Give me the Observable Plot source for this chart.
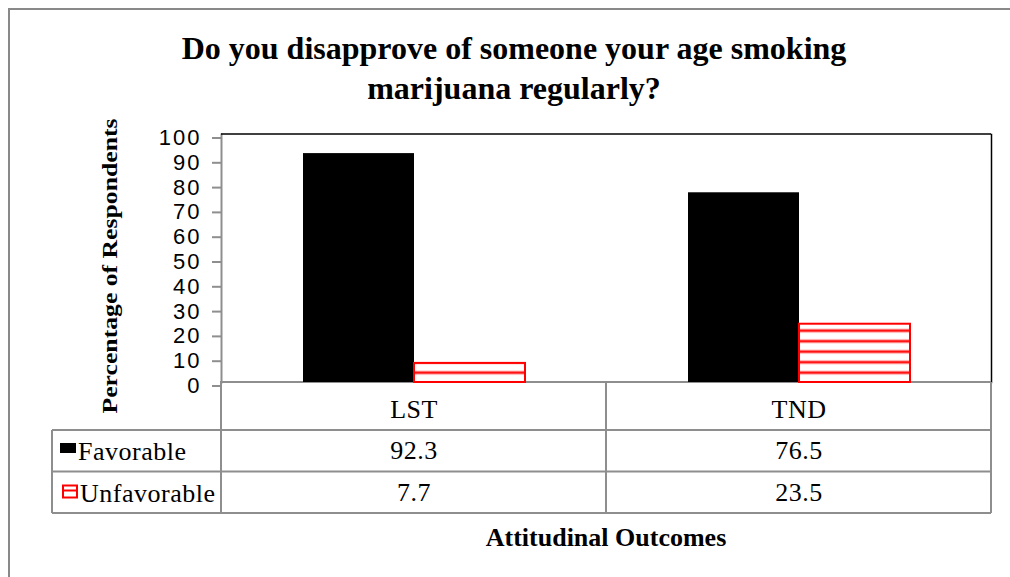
<!DOCTYPE html>
<html>
<head>
<meta charset="utf-8">
<script src="https://cdn.jsdelivr.net/npm/d3@7"></script>
<script src="https://cdn.jsdelivr.net/npm/@observablehq/plot@0.6"></script>
<style>
  body { margin: 0; background: #fff; }
  #wrap { position: relative; width: 1010px; height: 577px; overflow: hidden; background: #fff; }
  #border { position: absolute; left: 8px; top: 8px; width: 1200px; height: 800px;
            border-left: 2px solid #898989; border-top: 2px solid #898989; }
  #plot { position: absolute; left: 0; top: 0; }
  #title { position: absolute; left: 0; top: 28px; width: 1028px; text-align: center;
           font: bold 32px/40px "Liberation Serif", "Times New Roman", serif; color: #000; }
</style>
</head>
<body>
<div id="wrap">
  <div id="border"></div>
  <div id="plot"></div>
  <div id="title">Do you disapprove of someone your age smoking<br>marijuana regularly?</div>
</div>
<script>
// Survey outcome groups and the two answer series
const categories = ["LST", "TND"];
const seriesNames = ["Favorable", "Unfavorable"];
const favorable = [92.3, 76.5];
const unfavorable = [7.7, 23.5];
const yTicks = [0, 10, 20, 30, 40, 50, 60, 70, 80, 90, 100];
const yLabel = "Percentage of Respondents";
const xLabel = "Attitudinal Outcomes";

const serif = '"Liberation Serif", "Times New Roman", serif';
const sans = '"Liberation Sans", Arial, sans-serif';
const gridGray = "#8e8e8e";

const rows = categories.flatMap((c, i) => [
  {category: c, series: seriesNames[0], value: favorable[i]},
  {category: c, series: seriesNames[1], value: unfavorable[i]}
]);
const favRows = rows.filter(d => d.series === seriesNames[0]);
const unfRows = rows.filter(d => d.series === seriesNames[1]);

const chart = Plot.plot({
  width: 1010,
  height: 577,
  marginLeft: 221,
  marginRight: 19,
  marginTop: 134,
  marginBottom: 195,
  style: {fontFamily: sans, fontSize: "22px", background: "transparent", color: "#000"},
  fx: {domain: categories, padding: 0, label: null, axis: null},
  x: {domain: seriesNames, paddingInner: 0, paddingOuter: 0.734, axis: null},
  y: {domain: [0, 100], axis: null},
  marks: [
    Plot.frame({anchor: "right", stroke: "#000", strokeWidth: 1.5, facetAnchor: "right"}),
    Plot.frame({anchor: "left", stroke: gridGray, strokeWidth: 2, facetAnchor: "left"}),
    Plot.axisY({ticks: yTicks, tickSize: 9, tickPadding: 11, stroke: gridGray, strokeWidth: 2,
                fill: "#000", label: null, fontFamily: sans, fontSize: 22, dy: 3.5}),
    Plot.axisFx({anchor: "bottom", tickSize: 0, tickPadding: 17, label: null,
                 fontFamily: serif, fontSize: 26, fill: "#000"}),
    Plot.barY(favRows, {fx: "category", x: "series", y: "value", fill: "#000"}),
    Plot.barY(unfRows, {fx: "category", x: "series", y: "value",
                        fill: "url(#hatch)", stroke: "#ff0000", strokeWidth: 2}),
    // data table values under each category column
    Plot.text(favRows, {fx: "category", text: d => String(d.value), frameAnchor: "bottom",
                        dy: 76.5, fontFamily: serif, fontSize: 26, fill: "#000"}),
    Plot.text(unfRows, {fx: "category", text: d => String(d.value), frameAnchor: "bottom",
                        dy: 118, fontFamily: serif, fontSize: 26, fill: "#000"})
  ]
});

document.getElementById("plot").appendChild(chart);

const svg = d3.select(chart);
svg.selectAll("text").style("letter-spacing", "0.5px");
svg.selectAll('g[aria-label="y-axis tick label"] text').style("letter-spacing", "2px");

// horizontal hatch used by the Unfavorable bars
const defs = svg.insert("defs", ":first-child");
const pat = defs.append("pattern")
  .attr("id", "hatch")
  .attr("patternUnits", "userSpaceOnUse")
  .attr("width", 10)
  .attr("height", 10.5);
pat.append("rect").attr("width", 10).attr("height", 10.5).attr("fill", "#fff");
pat.append("rect").attr("y", 3.2).attr("width", 10).attr("height", 4).attr("fill", "#ffb0b0");
pat.append("rect").attr("y", 4.2).attr("width", 10).attr("height", 2).attr("fill", "#ff0000");

// scale positions shared by the plot borders and the data table
const fxs = chart.scale("fx");
const ys = chart.scale("y");
const yBase = ys.apply(0);
const yTop = ys.apply(100);
const colLeft = fxs.apply(categories[0]);
const colMid = fxs.apply(categories[1]);
const colRight = colMid + fxs.bandwidth;
const tableLeft = 52;
const rowLines = [yBase + 48, yBase + 89.5, yBase + 131];

// top border and category baseline of the plot area, drawn beneath the bars
const borders = svg.insert("g", 'g[aria-label="bar"]');
borders.append("line").attr("x1", colLeft).attr("x2", colRight).attr("y1", yTop).attr("y2", yTop)
  .attr("stroke", "#000").attr("stroke-width", 1.5);
borders.append("line").attr("x1", colLeft - 1).attr("x2", colRight).attr("y1", yBase).attr("y2", yBase)
  .attr("stroke", gridGray).attr("stroke-width", 2);

const table = svg.append("g").attr("stroke", gridGray).attr("stroke-width", 2).attr("fill", "none");
rowLines.forEach(yv => {
  table.append("line").attr("x1", tableLeft).attr("x2", colRight).attr("y1", yv).attr("y2", yv);
});
table.append("line").attr("x1", tableLeft).attr("x2", tableLeft).attr("y1", rowLines[0]).attr("y2", rowLines[2]);
[colLeft, colMid, colRight].forEach(xv => {
  table.append("line").attr("x1", xv).attr("x2", xv).attr("y1", yBase).attr("y2", rowLines[2]);
});

// legend keys inside the table
const keys = svg.append("g");
keys.append("rect").attr("x", 60).attr("y", rowLines[0] + 13).attr("width", 16).attr("height", 10).attr("fill", "#000");
keys.append("rect").attr("x", 63).attr("y", rowLines[1] + 14).attr("width", 14).attr("height", 12)
  .attr("fill", "#fff").attr("stroke", "#ff0000").attr("stroke-width", 2);
keys.append("line").attr("x1", 63).attr("x2", 77).attr("y1", rowLines[1] + 19).attr("y2", rowLines[1] + 19)
  .attr("stroke", "#ff0000").attr("stroke-width", 2);

keys.selectAll("text.row")
  .data(seriesNames)
  .join("text")
  .attr("class", "row")
  .attr("x", (d, i) => i === 0 ? 78 : 80)
  .attr("y", (d, i) => (i === 0 ? rowLines[0] : rowLines[1]) + 30)
  .attr("text-anchor", "start")
  .attr("font-family", serif)
  .attr("font-size", 26)
  .style("letter-spacing", "0.5px")
  .attr("fill", "#000")
  .text(d => d);

// axis titles
svg.append("text")
  .attr("transform", `translate(117, ${(yTop + yBase) / 2 + 8}) rotate(-90)`)
  .attr("text-anchor", "middle")
  .attr("font-family", serif)
  .attr("font-weight", "bold")
  .attr("font-size", 21)
  .attr("textLength", 295)
  .attr("lengthAdjust", "spacingAndGlyphs")
  .attr("fill", "#000")
  .text(yLabel);

svg.append("text")
  .attr("x", (colLeft + colRight) / 2)
  .attr("y", rowLines[2] + 33)
  .attr("text-anchor", "middle")
  .attr("font-family", serif)
  .attr("font-weight", "bold")
  .attr("font-size", 26)
  .attr("fill", "#000")
  .text(xLabel);
</script>
</body>
</html>
